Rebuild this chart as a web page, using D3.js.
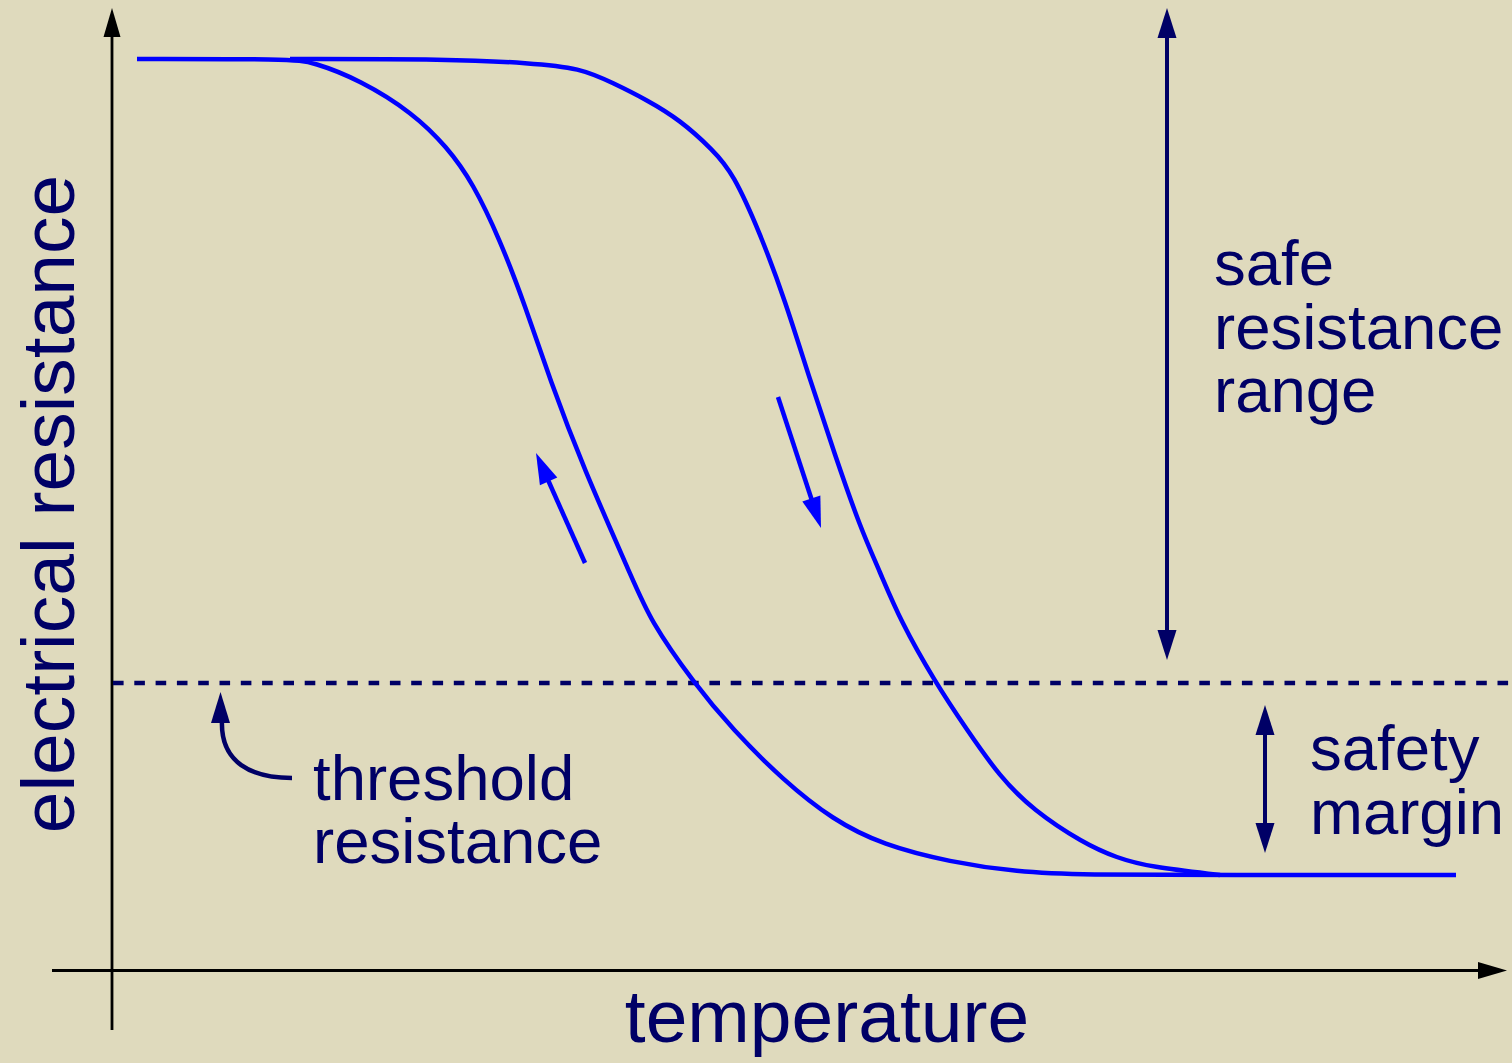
<!DOCTYPE html>
<html>
<head>
<meta charset="utf-8">
<script src="https://cdn.jsdelivr.net/npm/d3@7"></script>
<style>
body{margin:0;background:#dfdabd;overflow:hidden;}
svg{display:block;}
text{font-family:"Liberation Sans",Arial,sans-serif;fill:#000066;}
</style>
</head>
<body>
<script>
// temperature / resistance in arbitrary units
var coolTemp = [25, 178, 201, 248, 301, 335, 361, 388, 413, 438, 471, 521, 538, 581, 621, 671, 721, 771, 838, 905, 971, 1108, 1344];
var coolRes  = [816, 816, 813, 795, 762, 728, 692, 635, 570, 495, 408, 295, 255, 193, 145, 95, 55, 30, 13, 3, 0, 0, 0];

var heatTemp = [178, 338, 418, 468, 501, 535, 568, 601, 621, 648, 673, 698, 723, 748, 768, 788, 823, 855, 888, 921, 971, 1005, 1038, 1108];
var heatRes  = [816, 816, 812, 807, 792, 775, 755, 725, 702, 642, 575, 495, 420, 348, 303, 255, 193, 145, 98, 65, 32, 17, 8, 0];

var threshold = 192;

var labelsRange = ['safe', 'resistance', 'range'];
var labelsMargin = ['safety', 'margin'];
var labelsThreshold = ['threshold', 'resistance'];

var W = 1512, H = 1063;
var navy = '#000066', blue = '#0000ff';

var svg = d3.select('body').append('svg').attr('width', W).attr('height', H);
svg.append('rect').attr('width', W).attr('height', H).attr('fill', '#dfdabd');

var x = d3.scaleLinear().domain([0, 1400]).range([112, 1512]);
var y = d3.scaleLinear().domain([0, 816]).range([875, 59]);

function arrow(x1, y1, x2, y2, color, sw, len, hw, both) {
  var dx = x2 - x1, dy = y2 - y1, d = Math.sqrt(dx * dx + dy * dy);
  var ux = dx / d, uy = dy / d;
  var sx = x1, sy = y1;
  if (both) { sx = x1 + ux * (len - 2); sy = y1 + uy * (len - 2); }
  svg.append('line')
    .attr('x1', sx).attr('y1', sy)
    .attr('x2', x2 - ux * (len - 2)).attr('y2', y2 - uy * (len - 2))
    .attr('stroke', color).attr('stroke-width', sw);
  head(x2, y2, ux, uy, color, len, hw);
  if (both) head(x1, y1, -ux, -uy, color, len, hw);
}

function head(tx, ty, ux, uy, color, len, hw) {
  var bx = tx - ux * len, by = ty - uy * len;
  svg.append('polygon')
    .attr('points', [[tx, ty], [bx - uy * hw, by + ux * hw], [bx + uy * hw, by - ux * hw]].map(p => p.join(',')).join(' '))
    .attr('fill', color);
}

// axes
arrow(x(0), 1030, x(0), 8, '#000', 2.8, 29, 8.5, false);
arrow(52, y(-95.5), 1507, y(-95.5), '#000', 2.8, 29, 8.5, false);

// threshold
svg.append('line')
  .attr('x1', x(1)).attr('x2', W)
  .attr('y1', y(threshold)).attr('y2', y(threshold))
  .attr('stroke', navy).attr('stroke-width', 4.5)
  .attr('stroke-dasharray', '10.6,10.7');

// curves
var line = d3.line().x(d => x(d[0])).y(d => y(d[1])).curve(d3.curveBasis);

svg.append('path')
  .datum(coolTemp.map((t, i) => [t, coolRes[i]]))
  .attr('d', line)
  .attr('fill', 'none').attr('stroke', blue).attr('stroke-width', 4.5);

svg.append('path')
  .datum(heatTemp.map((t, i) => [t, heatRes[i]]))
  .attr('d', line)
  .attr('fill', 'none').attr('stroke', blue).attr('stroke-width', 4.5);

// direction arrows
arrow(x(473), y(312), x(424), y(422), blue, 4.5, 31, 9.5, false);
arrow(x(666), y(478), x(709), y(347), blue, 4.5, 31, 9.5, false);

// range arrows
arrow(x(1055), y(867), x(1055), y(215), navy, 4, 30, 9.5, true);
arrow(x(1153), y(170), x(1153), y(22), navy, 4, 30, 9.5, true);

// curved threshold pointer
var p = d3.path();
p.moveTo(x(180), y(97));
p.bezierCurveTo(x(140), y(97), x(108), y(112), x(110), y(155));
svg.append('path').attr('d', p.toString())
  .attr('fill', 'none').attr('stroke', navy).attr('stroke-width', 4.5);
head(x(108.5), y(183), 0, -1, navy, 31, 9.5);

// labels
labelsRange.forEach((s, i) => {
  svg.append('text').text(s).attr('x', 1214).attr('y', 285 + i * 63.5)
    .style('font-size', '63.5px');
});
labelsMargin.forEach((s, i) => {
  svg.append('text').text(s).attr('x', 1310).attr('y', 770 + i * 63.5)
    .style('font-size', '63.5px');
});
labelsThreshold.forEach((s, i) => {
  svg.append('text').text(s).attr('x', 313).attr('y', 800 + i * 63)
    .style('font-size', '63.5px');
});

svg.append('text').text('temperature')
  .attr('x', 827).attr('y', 1042)
  .attr('text-anchor', 'middle')
  .style('font-size', '75px');

svg.append('text').text('electrical resistance')
  .attr('text-anchor', 'middle')
  .attr('transform', 'translate(74,504) rotate(-90)')
  .style('font-size', '75px');
</script>
</body>
</html>
